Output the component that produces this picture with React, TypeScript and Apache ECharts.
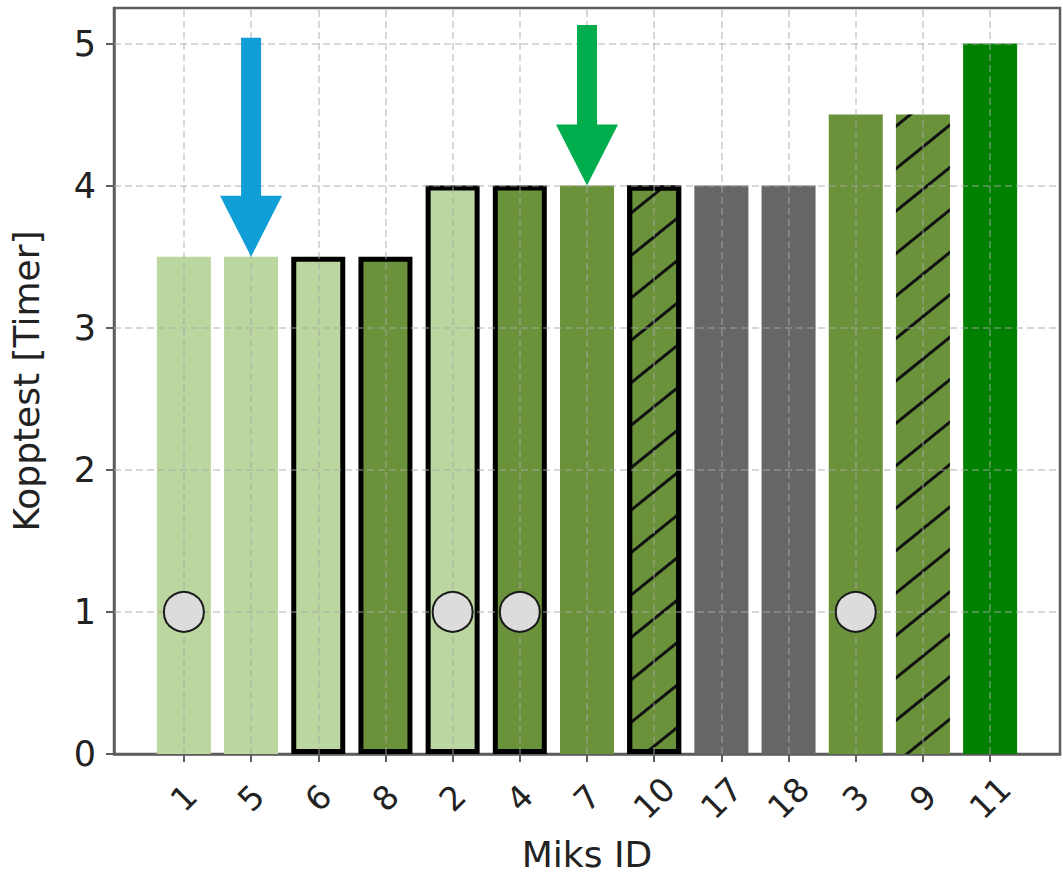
import React, { useEffect, useRef } from "react";
import * as echarts from "echarts";

// ---- data ----
const mixIds = ["1", "5", "6", "8", "2", "4", "7", "10", "17", "18", "3", "9", "11"];
const kopptestHours = [3.5, 3.5, 3.5, 3.5, 4, 4, 4, 4, 4, 4, 4.5, 4.5, 5];
const yTicks = [0, 1, 2, 3, 4, 5];

// markers drawn at 1 hour on these mixes
const circleMixIds = ["1", "2", "4", "3"];
const circleValue = 1;

// arrows pointing at the bars of these mixes (top of shaft in data units)
const arrowMixIds = ["5", "7"];
const arrowTopValues = [5.04, 5.13];

// ---- styles (kept apart from the data) ----
const fillGroup = ["light", "light", "light", "mid", "light", "mid", "mid", "mid", "gray", "gray", "mid", "mid", "dark"];
const outlinedMixIds = ["6", "8", "2", "4", "10"];
const hatchedMixIds = ["10", "9"];
const palette: Record<string, string> = {
  light: "#bcd69f",
  mid: "#6a923a",
  gray: "#666666",
  dark: "#008000",
};
const arrowColors = ["#0f9ed5", "#00ad4d"];

const FONT = "DejaVu Sans";
const TEXT = "#222222";
const AXIS = "#5e5e5e";
const GRID = "rgba(170,170,170,0.6)";

export default function App() {
  const ref = useRef<HTMLDivElement>(null);

  useEffect(() => {
    if (!ref.current) return;
    const chart = echarts.init(ref.current, null, { renderer: "svg" });

    const catIdx = mixIds.map((_, i) => i);

    const barData = mixIds.map((id, i) => {
      const itemStyle: any = { color: palette[fillGroup[i]] };
      if (outlinedMixIds.includes(id)) {
        itemStyle.borderColor = "#000";
        itemStyle.borderWidth = 5;
      }
      if (hatchedMixIds.includes(id)) {
        itemStyle.decal = {
          symbol: "rect",
          symbolSize: 1,
          color: "#111",
          dashArrayX: [1, 0],
          dashArrayY: [2.5, 30],
          rotation: -0.68,
        };
      }
      return { value: [i, kopptestHours[i]], itemStyle };
    });

    const circleData = circleMixIds.map((id) => [mixIds.indexOf(id), circleValue]);

    const arrowData = arrowMixIds.map((id, k) => {
      const i = mixIds.indexOf(id);
      return [i, kopptestHours[i], arrowTopValues[k]];
    });

    const gridLines = [
      ...catIdx.map((i) => ({ xAxis: i })),
      ...yTicks.filter((v) => v > 0).map((v) => ({ yAxis: v })),
    ];

    const option: any = {
      animation: false,
      backgroundColor: "#fff",
      grid: {
        left: 112,
        right: 3,
        top: 8,
        bottom: 125,
        show: true,
        borderColor: AXIS,
        borderWidth: 2.5,
        backgroundColor: "transparent",
      },
      xAxis: {
        type: "value",
        min: -1.04,
        max: 13.04,
        name: "Miks ID",
        nameLocation: "middle",
        nameGap: 82,
        nameTextStyle: { fontFamily: FONT, fontSize: 36, color: TEXT },
        axisLine: { show: true, onZero: false, lineStyle: { color: AXIS, width: 2.5 } },
        axisTick: {
          show: true,
          length: 8,
          customValues: catIdx,
          lineStyle: { color: AXIS, width: 2 },
        },
        axisLabel: {
          customValues: catIdx,
          formatter: (v: number) => mixIds[Math.round(v)] ?? "",
          rotate: 45,
          align: "center",
          verticalAlign: "middle",
          margin: 44,
          fontFamily: FONT,
          fontSize: 33,
          color: TEXT,
        },
        splitLine: { show: false },
      },
      yAxis: {
        type: "value",
        min: 0,
        max: 5.25,
        interval: 1,
        name: "Kopptest [Timer]",
        nameLocation: "middle",
        nameGap: 70,
        nameTextStyle: { fontFamily: FONT, fontSize: 36, color: TEXT },
        axisLine: { show: true, onZero: false, lineStyle: { color: AXIS, width: 2.5 } },
        axisTick: {
          show: true,
          length: 8,
          customValues: yTicks,
          lineStyle: { color: AXIS, width: 2 },
        },
        axisLabel: {
          customValues: yTicks,
          margin: 18,
          fontFamily: FONT,
          fontSize: 35,
          color: TEXT,
        },
        splitLine: { show: false },
      },
      series: [
        {
          type: "bar",
          barWidth: 54,
          z: 2,
          data: barData,
          markLine: {
            silent: true,
            symbol: "none",
            z: 3,
            label: { show: false },
            lineStyle: { type: [7, 4], color: GRID, width: 1.5 },
            emphasis: { disabled: true },
            data: gridLines,
          },
        },
        {
          type: "scatter",
          z: 6,
          symbol: "circle",
          symbolSize: 40,
          itemStyle: { color: "#dcdcdc", borderColor: "#1a1a1a", borderWidth: 2, opacity: 1 },
          data: circleData,
        },
        {
          type: "custom",
          z: 7,
          data: arrowData,
          renderItem: (params: any, api: any) => {
            const x = api.value(0);
            const tip = api.coord([x, api.value(1)]);
            const top = api.coord([x, api.value(2)]);
            const headH = 61;
            const headW = 62;
            const shaftW = 20;
            const cx = tip[0];
            const baseY = tip[1] - headH;
            return {
              type: "polygon",
              shape: {
                points: [
                  [cx - shaftW / 2, top[1]],
                  [cx + shaftW / 2, top[1]],
                  [cx + shaftW / 2, baseY],
                  [cx + headW / 2, baseY],
                  [cx, tip[1]],
                  [cx - headW / 2, baseY],
                  [cx - shaftW / 2, baseY],
                ],
              },
              style: { fill: arrowColors[params.dataIndex] },
            };
          },
        },
      ],
    };

    chart.setOption(option);
    return () => chart.dispose();
  }, []);

  return (
    <div
      ref={ref}
      style={{ position: "absolute", left: 0, top: 0, width: 1063, height: 879 }}
    />
  );
}
